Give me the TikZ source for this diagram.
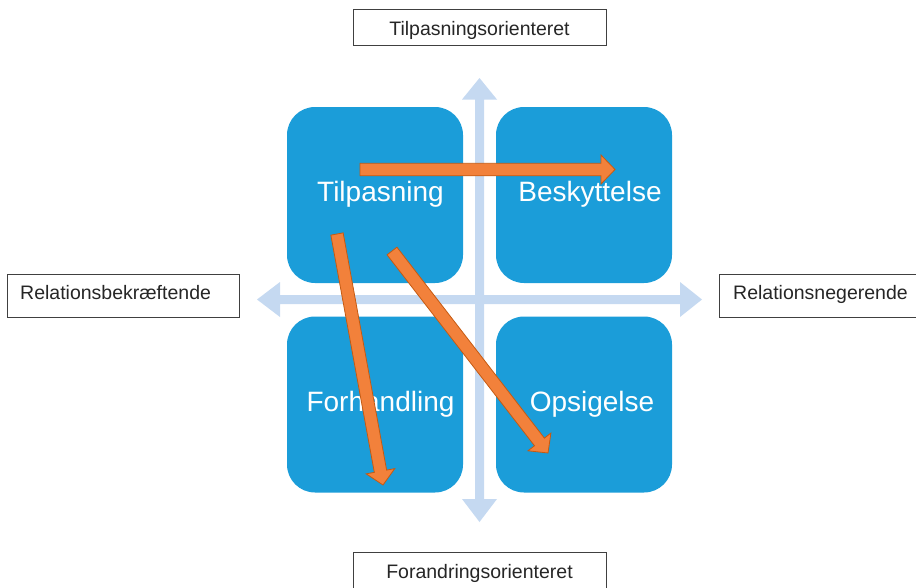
\documentclass[tikz,border=0pt]{standalone}
\usepackage{fontspec}
\setmainfont{Liberation Sans}
\usetikzlibrary{calc}
\definecolor{boxblue}{HTML}{1B9DD9}
\definecolor{axisblue}{HTML}{C5D9F1}
\definecolor{orangefill}{HTML}{F2813B}
\definecolor{orangeline}{HTML}{C55A11}
\tikzset{
  quad/.style={fill=boxblue, rounded corners=28pt, minimum width=176pt, minimum height=176pt, inner sep=0pt},
  quadtext/.style={text=white, font=\fontsize{28}{32}\selectfont, inner sep=0pt, anchor=base},
  labelbox/.style={draw=black!75, line width=0.8pt, fill=white, inner sep=0pt},
  labeltext/.style={font=\fontsize{19.5}{23}\selectfont, text=black!85, inner sep=0pt},
  axis/.style={fill=axisblue},
  fat/.style={fill=orangefill, draw=orangeline, line width=0.8pt, line join=miter},
}
\newcommand\fatarrow[2]{%
  \coordinate (h) at ($(#2)!14pt!(#1)$);
  \path[fat] ($(#1)!6.25pt!90:(#2)$) -- ($(h)!6.25pt!90:(#2)$) -- ($(h)!14.5pt!90:(#2)$) -- (#2)
    -- ($(h)!14.5pt!-90:(#2)$) -- ($(h)!6.25pt!-90:(#2)$) -- ($(#1)!6.25pt!-90:(#2)$) -- cycle;
}
\begin{document}
\begin{tikzpicture}[x=1pt,y=-1pt]
\useasboundingbox (0,0) rectangle (916,587);
\clip (0,0) rectangle (916,587);
% axes
\fill[axis] (475,99.5) -- (462,99.5) -- (479.5,78) -- (497,99.5) -- (484,99.5)
  -- (484,499) -- (497,499) -- (479.5,522) -- (462,499) -- (475,499) -- cycle;
\fill[axis] (280,295) -- (280,282) -- (257,299.5) -- (280,317) -- (280,304)
  -- (680,304) -- (680,317) -- (702,299.5) -- (680,282) -- (680,295) -- cycle;
% quadrant boxes
\node[quad] (tl) at (375,195) {};
\node[quad] (tr) at (584,195) {};
\node[quad] (bl) at (375,404.5) {};
\node[quad] (br) at (584,404.5) {};
\node[quadtext] (tlt) at (380.5,201.5) {Tilpasning};
\node[quadtext] (trt) at (590,201.5) {Beskyttelse};
\node[quadtext] (blt) at (380.5,411.5) {Forhandling};
\node[quadtext] (brt) at (592,411.5) {Opsigelse};
% label boxes
\node[labelbox, minimum width=253pt, minimum height=36.5pt] (top) at (479.5,27.5) {};
\node[labeltext, anchor=base] (topt) at (479.5,35) {Tilpasningsorienteret};
\node[labelbox, minimum width=253pt, minimum height=40pt] (bot) at (479.5,572) {};
\node[labeltext, anchor=base] (bott) at (479.5,578) {Forandringsorienteret};
\node[labelbox, minimum width=232pt, minimum height=43pt] (left) at (123,295.5) {};
\node[labeltext, anchor=base west] (leftt) at (20,299) {Relationsbekræftende};
\node[labelbox, minimum width=220pt, minimum height=43pt] (right) at (829,295.5) {};
\node[labeltext, anchor=base west] (rightt) at (733,299) {Relationsnegerende};
% orange arrows
\coordinate (a1s) at (360,169.5);
\coordinate (a1e) at (615,169.5);
\coordinate (a2s) at (337,234);
\coordinate (a2e) at (383,485);
\coordinate (a3s) at (392,251);
\coordinate (a3e) at (548,453);
\fatarrow{a1s}{a1e}
\fatarrow{a2s}{a2e}
\fatarrow{a3s}{a3e}
\end{tikzpicture}
\end{document}
